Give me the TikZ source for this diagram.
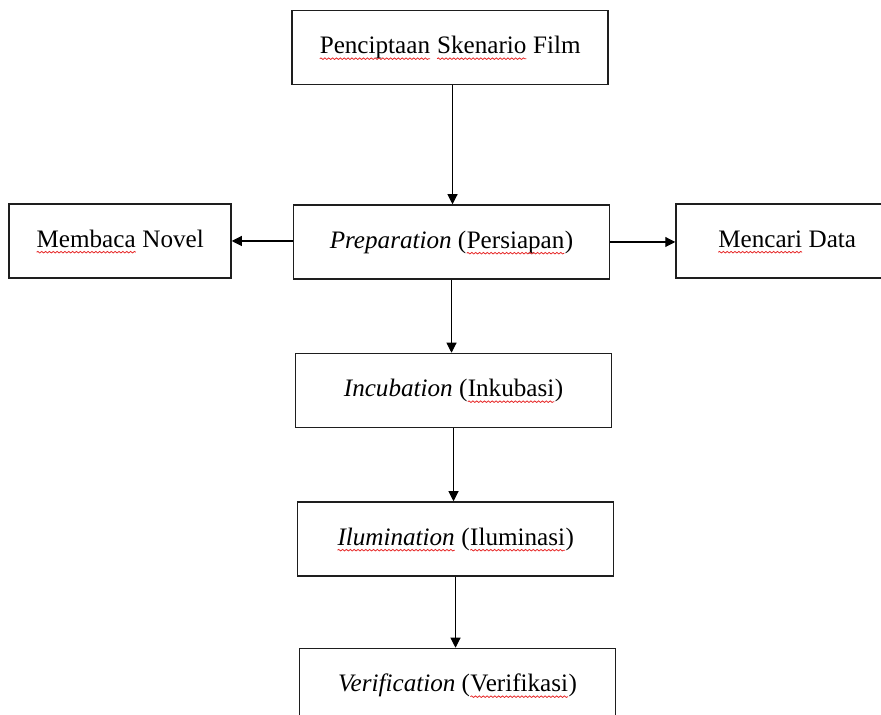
\documentclass[tikz,border=0pt]{standalone}
\usepackage{fontspec}
\setmainfont{Liberation Serif}
\usepackage{xcolor}
\usepackage{tikz}
\usetikzlibrary{positioning,arrows.meta,decorations.pathmorphing}
\definecolor{boxborder}{RGB}{30,30,30}
\definecolor{spellred}{RGB}{230,40,40}
% red wavy underline as in the scanned page
\tikzset{
    spellword/.style={rectangle, draw=none, inner sep=0pt, outer sep=0pt,
        minimum width=0pt, minimum height=0pt, text height=, text depth=, anchor=base},
    spellwave/.style={draw=spellred, line width=0.45pt, decorate,
        decoration={snake, amplitude=0.45pt, segment length=2.2pt}}
}
\newcommand\spell[1]{\tikz[baseline=(sw.base)]{\node[spellword] (sw) at (0,0) {#1};
    \draw[spellwave] ([yshift=-2.7pt]sw.base west) -- ([yshift=-2.7pt]sw.base east);}}

\begin{document}
\begin{tikzpicture}[
            font=\fontsize{14.3}{17}\selectfont,
            node distance=1.46cm and 1.22cm,
            >={Triangle[length=2mm,width=2mm]},
            box/.style={
                    rectangle, draw=boxborder, line width=0.85pt,
                    minimum width=6.32cm, minimum height=1.48cm,
                    text height=1.6ex, text depth=0pt,
                    inner sep=4pt
                },
            sidebox/.style={box, minimum width=4.44cm},
            arrow/.style={->, line width=0.6pt, draw=black}
            ]

            \useasboundingbox (0,0) rectangle (17.62,-14.3);

            % ===== Main column =====
            \node[box] (film) at (9.0,-0.95) {\spell{Penciptaan} \spell{Skenario} Film};
            \node[box, below=2.38cm of film, xshift=0.03cm] (prep) {\textit{Preparation} (\spell{Persiapan})};
            \node[box, below=of prep, xshift=0.04cm] (incub) {\textit{Incubation} (\spell{Inkubasi})};
            \node[box, below=of incub, xshift=0.04cm] (ilum) {\spell{\textit{Ilumination}} (\spell{Iluminasi})};
            \node[box, below=1.42cm of ilum, xshift=0.04cm] (verif) {\textit{Verification} (\spell{Verifikasi})};

            % ===== Side boxes =====
            \node[sidebox, left=of prep, yshift=0.02cm] (novel) {\spell{Membaca} Novel};
            \node[sidebox, right=1.3cm of prep, yshift=0.02cm] (data) {\spell{Mencari} Data};

            % ===== Arrows =====
            \draw[arrow] ([xshift=0.05cm]film.south) -- ([xshift=0.05cm]film.south |- prep.north);
            \draw[arrow] ([yshift=0.02cm]prep.west) -- ([yshift=0.02cm]prep.west -| novel.east);
            \draw[arrow] (prep.east) -- (prep.east -| data.west);
            \draw[arrow] (prep.south) -- (prep.south |- incub.north);
            \draw[arrow] (incub.south) -- (incub.south |- ilum.north);
            \draw[arrow] (ilum.south) -- (ilum.south |- verif.north);

        \end{tikzpicture}
\end{document}
